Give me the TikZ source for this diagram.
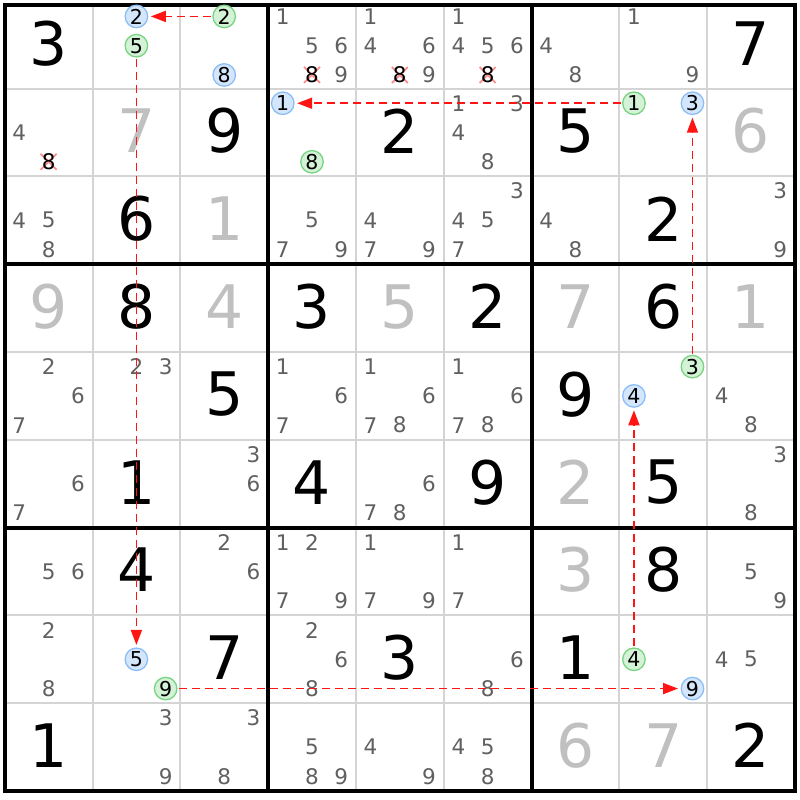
\documentclass[tikz,border=0pt]{standalone}
\usepackage{fontspec}
\setmainfont{DejaVu Sans}
\usetikzlibrary{arrows.meta}
\definecolor{candgray}{RGB}{96,96,96}
\definecolor{solvgray}{RGB}{192,192,192}
\definecolor{thingrid}{RGB}{212,212,212}
\definecolor{bluefill}{RGB}{212,230,252}
\definecolor{blueline}{RGB}{140,190,245}
\definecolor{greenfill}{RGB}{212,242,214}
\definecolor{greenline}{RGB}{120,212,130}
\definecolor{linkred}{RGB}{255,20,20}
\definecolor{crossred}{RGB}{255,140,140}
\newcommand{\cpos}[3]{%
  \pgfmathsetmacro\cposx{4.7+87.8*(#2-1)+(mod(#3-1,3)+0.5)*29.267}%
  \pgfmathsetmacro\cposy{0.8+87.8*(#1-1)+(int((#3-1)/3)+0.5)*29.267+(#1==1)}}
\tikzset{
  bigdigit/.style={inner sep=0pt, font=\fontsize{60}{60}\selectfont},
  canddigit/.style={inner sep=0pt, font=\fontsize{21.5}{21.5}\selectfont, text=candgray},
  crossdigit/.style={inner sep=0pt, font=\fontsize{21.5}{21.5}\selectfont, text=black},
  bluecand/.style={circle, draw=blueline, fill=bluefill, line width=1.3pt, minimum size=22.5pt, inner sep=0pt, font=\fontsize{20.5}{20.5}\selectfont, text=black},
  greencand/.style={circle, draw=greenline, fill=greenfill, line width=1.3pt, minimum size=22.5pt, inner sep=0pt, font=\fontsize{20.5}{20.5}\selectfont, text=black},
  chainlink/.style={draw=linkred, line width=1.7pt, dash pattern=on 8pt off 5pt, -{Triangle[length=15pt,width=11pt]}, shorten >=2.5pt, shorten <=1pt},
  crossmark/.style={draw=crossred, line width=1.8pt},
  thinline/.style={draw=thingrid, line width=2pt},
  thickline/.style={draw=black, line width=4pt}
}
\begin{document}
\begin{tikzpicture}[x=1pt,y=-1pt]
\useasboundingbox (0,0) rectangle (800,800);
\fill[white] (0,0) rectangle (800,800);
% thin grid lines
\foreach \k in {1,2,4,5,7,8} {
  \draw[thinline] ({4.7+87.8*\k},4.7) -- ({4.7+87.8*\k},791);
  \draw[thinline] (4.7,{0.8+87.8*\k}) -- (795,{0.8+87.8*\k});
}
% thick grid lines
\foreach \k in {3,6} {
  \draw[thickline] ({4.7+87.8*\k},4.7) -- ({4.7+87.8*\k},791);
  \draw[thickline] (4.7,{0.8+87.8*\k}) -- (795,{0.8+87.8*\k});
}
\draw[thickline] (4.7,4.7) rectangle (795,791);
% big digits
\foreach \r/\c/\d/\col in {
  1/1/3/black, 1/9/7/black,
  2/2/7/solvgray, 2/3/9/black, 2/5/2/black, 2/7/5/black, 2/9/6/solvgray,
  3/2/6/black, 3/3/1/solvgray, 3/8/2/black,
  4/1/9/solvgray, 4/2/8/black, 4/3/4/solvgray, 4/4/3/black, 4/5/5/solvgray,
  4/6/2/black, 4/7/7/solvgray, 4/8/6/black, 4/9/1/solvgray,
  5/3/5/black, 5/7/9/black,
  6/2/1/black, 6/4/4/black, 6/6/9/black, 6/7/2/solvgray, 6/8/5/black,
  7/2/4/black, 7/7/3/solvgray, 7/8/8/black,
  8/3/7/black, 8/5/3/black, 8/7/1/black,
  9/1/1/black, 9/7/6/solvgray, 9/8/7/solvgray, 9/9/2/black} {
  \pgfmathsetmacro\bx{4.7+87.8*(\c-1)+43.9}
  \pgfmathsetmacro\by{0.8+87.8*(\r-1)+43.9-1.5}
  \node[bigdigit, text=\col] (g\r\c) at (\bx,\by) {\d};
}
% plain candidates
\foreach \r/\c/\d in {
  1/4/1, 1/4/5, 1/4/6, 1/4/9,
  1/5/1, 1/5/4, 1/5/6, 1/5/9,
  1/6/1, 1/6/4, 1/6/5, 1/6/6,
  1/7/4, 1/7/8, 1/8/1, 1/8/9,
  2/1/4, 2/6/1, 2/6/3, 2/6/4, 2/6/8,
  3/1/4, 3/1/5, 3/1/8, 3/4/5, 3/4/7, 3/4/9, 3/5/4, 3/5/7, 3/5/9,
  3/6/3, 3/6/4, 3/6/5, 3/6/7, 3/7/4, 3/7/8, 3/9/3, 3/9/9,
  5/1/2, 5/1/6, 5/1/7, 5/2/2, 5/2/3, 5/4/1, 5/4/6, 5/4/7,
  5/5/1, 5/5/6, 5/5/7, 5/5/8, 5/6/1, 5/6/6, 5/6/7, 5/6/8, 5/9/4, 5/9/8,
  6/1/6, 6/1/7, 6/3/3, 6/3/6, 6/5/6, 6/5/7, 6/5/8, 6/9/3, 6/9/8,
  7/1/5, 7/1/6, 7/3/2, 7/3/6, 7/4/1, 7/4/2, 7/4/7, 7/4/9,
  7/5/1, 7/5/7, 7/5/9, 7/6/1, 7/6/7, 7/9/5, 7/9/9,
  8/1/2, 8/1/8, 8/4/2, 8/4/6, 8/4/8, 8/6/6, 8/6/8, 8/9/4, 8/9/5,
  9/2/3, 9/2/9, 9/3/3, 9/3/8, 9/4/5, 9/4/8, 9/4/9, 9/5/4, 9/5/9,
  9/6/4, 9/6/5, 9/6/8} {
  \cpos{\r}{\c}{\d}
  \node[canddigit] (k\r\c\d) at (\cposx,\cposy) {\d};
}
% eliminated candidates
\foreach \r/\c/\d in {1/4/8, 1/5/8, 1/6/8, 2/1/8} {
  \cpos{\r}{\c}{\d}
  \draw[crossmark] (\cposx-8,\cposy-8) -- (\cposx+8,\cposy+8);
  \draw[crossmark] (\cposx-8,\cposy+8) -- (\cposx+8,\cposy-8);
  \node[crossdigit] (k\r\c\d) at (\cposx,\cposy) {\d};
}
% blue circled candidates
\foreach \r/\c/\d in {1/2/2, 1/3/8, 2/4/1, 2/8/3, 5/8/4, 8/2/5, 8/8/9} {
  \cpos{\r}{\c}{\d}
  \node[bluecand] (k\r\c\d) at (\cposx,\cposy) {\d};
}
% green circled candidates
\foreach \r/\c/\d in {1/2/5, 1/3/2, 2/4/8, 2/8/1, 5/8/3, 8/2/9, 8/8/4} {
  \cpos{\r}{\c}{\d}
  \node[greencand] (k\r\c\d) at (\cposx,\cposy) {\d};
}
% chain links
\draw[chainlink] (k132) -- (k122);
\draw[chainlink] (k125) -- (k825);
\draw[chainlink] (k829) -- (k889);
\draw[chainlink] (k884) -- (k584);
\draw[chainlink] (k583) -- (k283);
\draw[chainlink] (k281) -- (k241);
\end{tikzpicture}
\end{document}
